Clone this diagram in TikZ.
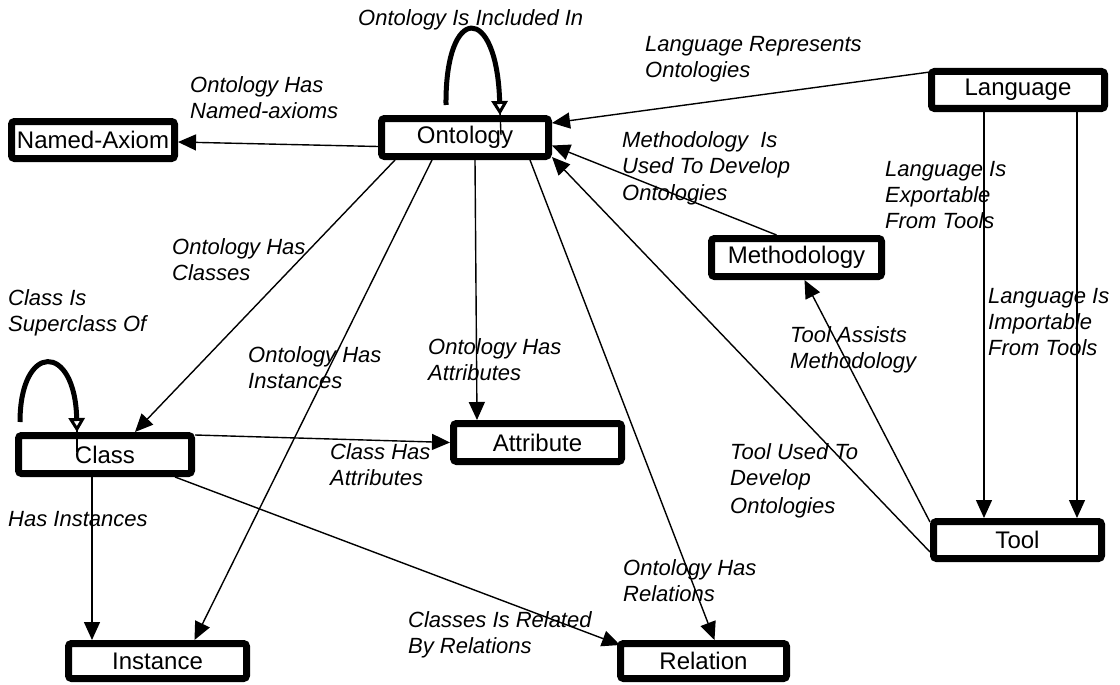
\documentclass[tikz,border=0pt]{standalone}
\usepackage{fontspec}
\setmainfont{Liberation Sans}
\usetikzlibrary{arrows.meta,calc}

\begin{document}
\begin{tikzpicture}[x=1pt,y=-1pt,
  box/.style={draw=black,line width=7pt,rounded corners=3pt,fill=white,inner sep=0pt,
    font=\fontsize{24}{26}\selectfont},
  lbl/.style={anchor=north west,inner sep=0pt,align=left,
    font=\fontsize{22}{26}\selectfont\itshape},
  link/.style={line width=1.4pt,-{Triangle[length=18pt,width=16pt]}},
  selfloop/.style={line width=5pt,-{Triangle[open,length=14pt,width=16pt,line width=3pt]}},
  stem/.style={line width=1.4pt}
]
\useasboundingbox (0,0) rectangle (1120,685);
\fill[white] (0,0) rectangle (1120,685);

% concepts
\node[box,minimum width=163pt,minimum height=37pt] (nax)  at (93,140)      {Named-Axiom};
\node[box,minimum width=167pt,minimum height=38pt] (ont)  at (465,137.5)   {Ontology};
\node[box,minimum width=173pt,minimum height=37pt] (lang) at (1018,90)     {Language};
\node[box,minimum width=170pt,minimum height=38pt] (meth) at (796.5,257.5) {Methodology};
\node[box,minimum width=173pt,minimum height=38pt] (cls)  at (105,454.5)   {Class};
\node[box,minimum width=168pt,minimum height=38pt] (attr) at (537.5,442.5) {Attribute};
\node[box,minimum width=168pt,minimum height=37pt] (tool) at (1017.5,540)  {Tool};
\node[box,minimum width=178pt,minimum height=35pt] (inst) at (157.5,661)   {Instance};
\node[box,minimum width=166pt,minimum height=35pt] (rel)  at (703.5,661)   {Relation};

% relations
\draw[link] ($(ont.west)+(0,9)$) -- ($(nax.east)+(0,2)$);
\draw[link] ($(lang.north west)+(2,4)$) -- ($(ont.north east)+(0,8)$);
\draw[link] ($(meth.north)+(-20,0)$) -- ($(ont.east)+(0,8)$);
\draw[link] ($(tool.west)+(0,12)$) -- ($(ont.south east)+(0,-3)$);
\draw[link] ($(tool.north west)+(0,4)$) -- ($(meth.south)+(8,0)$);
\draw[link] ($(lang.south west)+(56,0)$) -- ($(tool.north west)+(54,0)$);
\draw[link] ($(lang.south west)+(149,0)$) -- ($(tool.north west)+(147,0)$);
\draw[link] ($(ont.south west)+(17,0)$) -- ($(cls.north)+(30,0)$);
\draw[link] ($(ont.south west)+(54,0)$) -- ($(inst.north)+(37,0)$);
\draw[link] ($(ont.south)+(10,0)$) -- ($(attr.north west)+(27,0)$);
\draw[link] ($(ont.south)+(65,0)$) -- ($(rel.north)+(11,0)$);
\draw[link] ($(cls.north east)+(0,3)$) -- (attr.west);
\draw[link] ($(cls.south west)+(77,0)$) -- ($(inst.north west)+(27,0)$);
\draw[link] ($(cls.south east)+(-20,0)$) -- ($(rel.north west)+(3,5)$);

% reflexive relations
\draw[selfloop] ($(ont.north)+(-19,-10)$) .. controls ($(ont.north)+(-20,-112)$) and ($(ont.north)+(32,-112)$) .. ($(ont.north)+(35,0)$);
\draw[stem] ($(ont.north)+(35,-4)$) -- ($(ont.north)+(36,20)$);
\draw[selfloop] ($(cls.north west)+(5,-10)$) .. controls ($(cls.north west)+(5,-90)$) and ($(cls.north west)+(60,-90)$) .. ($(cls.north west)+(62,0)$);
\draw[stem] ($(cls.north west)+(62,-4)$) -- ($(cls.north west)+(62,20)$);

% relation names
\node[lbl] (l1)  at (358,9)   {Ontology Is Included In};
\node[lbl] (l2)  at (645,36)  {Language Represents\\Ontologies};
\node[lbl] (l3)  at (190,76)  {Ontology Has\\Named-axioms};
\node[lbl] (l4)  at (622,131) {Methodology~ Is\\Used To Develop\\[1pt]Ontologies};
\node[lbl] (l5)  at (885,161) {Language Is\\Exportable\\From Tools};
\node[lbl] (l6)  at (172,238) {Ontology Has\\Classes};
\node[lbl] (l7)  at (8,289)   {Class Is\\Superclass Of};
\node[lbl] (l8)  at (248,346) {Ontology Has\\Instances};
\node[lbl] (l9)  at (428,338) {Ontology Has\\Attributes};
\node[lbl] (l10) at (790,326) {Tool Assists\\Methodology};
\node[lbl] (l11) at (988,288) {Language Is\\Importable\\From Tools};
\node[lbl] (l12) at (730,443) {Tool Used To\\Develop\\[2pt]Ontologies};
\node[lbl] (l13) at (330,443) {Class Has\\Attributes};
\node[lbl] (l14) at (8,511)   {Has Instances};
\node[lbl] (l15) at (623,559) {Ontology Has\\Relations};
\node[lbl] (l16) at (408,611) {Classes Is Related\\By Relations};
\end{tikzpicture}
\end{document}
